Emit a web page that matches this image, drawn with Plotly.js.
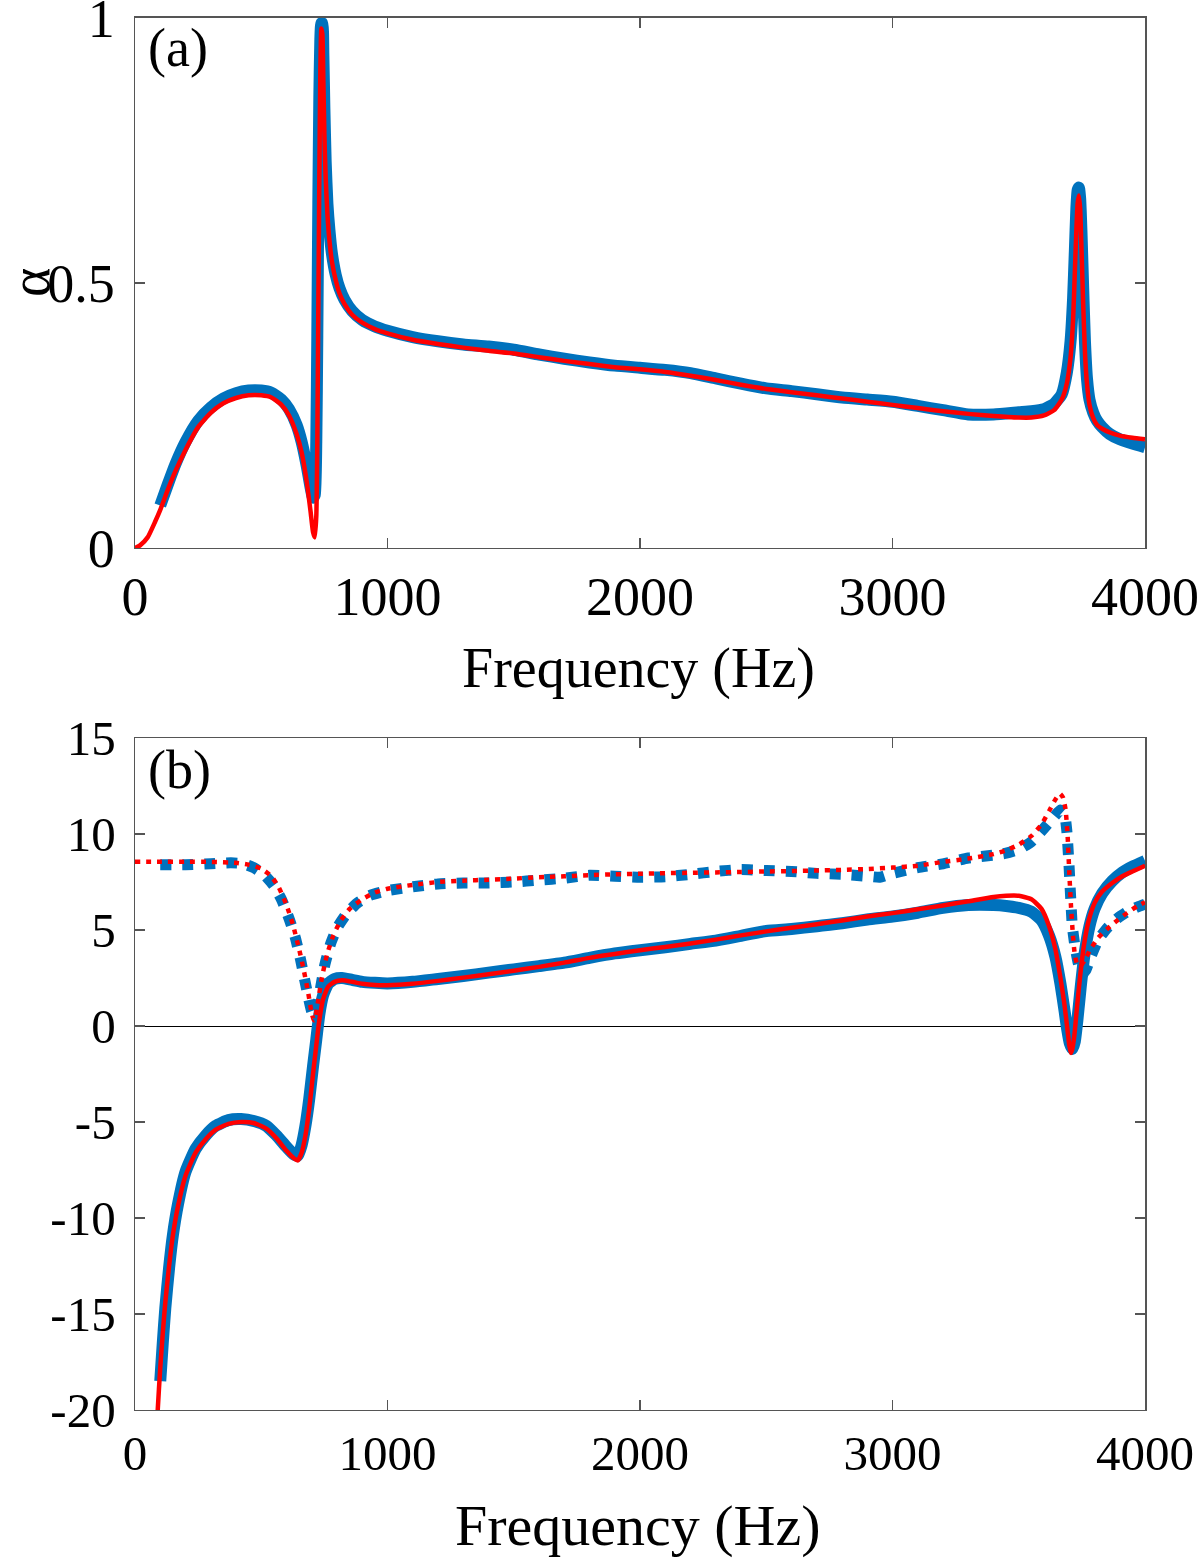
<!DOCTYPE html>
<html>
<head>
<meta charset="utf-8">
<script src="https://cdn.plot.ly/plotly-3.0.1.min.js"></script>
<style>
html,body{margin:0;padding:0;background:#fff;}
#plot{width:1200px;height:1559px;}
</style>
</head>
<body>
<div id="plot"></div>
<script>
// ---------- Panel (a): absorption coefficient ----------
var fAred = [0,20,50,80,100,130,160,200,250,300,350,400,450,500,540,580,610,640,660,680,695,705,712,718,722,726,730,734,738,742,746,750,755,762,770,780,795,810,830,860,900,950,1000,1100,1200,1300,1400,1500,1600,1700,1800,1900,2000,2100,2200,2300,2400,2500,2600,2700,2800,2900,3000,3100,3200,3300,3400,3500,3550,3600,3640,3670,3690,3705,3715,3722,3728,3733,3738,3743,3748,3755,3762,3770,3780,3795,3810,3830,3860,3900,3950,4000];
var alphaRed = [0,0.005,0.02,0.05,0.072,0.11,0.145,0.185,0.228,0.255,0.273,0.283,0.288,0.288,0.284,0.27,0.25,0.215,0.18,0.125,0.07,0.03,0.02,0.06,0.2,0.45,0.7,0.9,0.98,0.97,0.88,0.78,0.7,0.63,0.58,0.54,0.505,0.48,0.46,0.44,0.425,0.413,0.405,0.393,0.385,0.378,0.372,0.367,0.36,0.353,0.347,0.341,0.337,0.332,0.325,0.317,0.308,0.3,0.294,0.288,0.282,0.276,0.27,0.264,0.258,0.253,0.249,0.246,0.246,0.25,0.26,0.28,0.31,0.36,0.43,0.52,0.6,0.65,0.665,0.64,0.57,0.46,0.37,0.31,0.27,0.245,0.232,0.225,0.218,0.212,0.208,0.205];

var fAblue = [100,130,160,200,250,300,350,400,450,500,540,580,610,640,660,680,695,705,712,718,722,726,730,734,738,742,746,750,755,762,770,780,795,810,830,860,900,950,1000,1100,1200,1300,1400,1500,1600,1700,1800,1900,2000,2100,2200,2300,2400,2500,2600,2700,2800,2900,3000,3100,3200,3300,3400,3500,3550,3600,3640,3670,3690,3705,3715,3722,3728,3733,3738,3743,3748,3755,3762,3770,3780,3795,3810,3830,3860,3900,3950,4000];
var alphaBlue = [0.08,0.12,0.158,0.2,0.24,0.265,0.282,0.292,0.297,0.297,0.293,0.28,0.262,0.232,0.2,0.155,0.115,0.095,0.1,0.2,0.4,0.65,0.85,0.96,0.99,0.99,0.93,0.83,0.73,0.65,0.6,0.555,0.515,0.49,0.468,0.447,0.43,0.418,0.41,0.398,0.39,0.384,0.38,0.374,0.365,0.357,0.35,0.344,0.34,0.336,0.33,0.32,0.31,0.301,0.296,0.29,0.284,0.28,0.276,0.268,0.26,0.252,0.252,0.256,0.258,0.262,0.272,0.29,0.33,0.39,0.47,0.56,0.64,0.675,0.68,0.66,0.6,0.49,0.39,0.32,0.28,0.255,0.24,0.228,0.215,0.205,0.197,0.19];

// ---------- Panel (b): solid curves ----------
var fBsolidRed = [80,90,100,110,120,135,150,170,200,240,280,320,370,420,470,520,560,600,630,645,660,675,690,705,718,730,745,765,790,820,860,900,950,1000,1100,1200,1300,1400,1500,1600,1700,1800,1900,2000,2100,2200,2300,2400,2500,2600,2700,2800,2900,3000,3100,3200,3300,3400,3450,3500,3550,3590,3620,3645,3665,3680,3692,3700,3706,3712,3720,3730,3743,3758,3775,3800,3830,3870,3910,3950,4000];
var solidRed = [-23,-20,-17.8,-16,-14.4,-12.5,-10.9,-9.4,-7.8,-6.6,-5.9,-5.4,-5.1,-5.0,-5.05,-5.35,-5.85,-6.5,-6.9,-7.0,-6.6,-5.7,-4.3,-2.5,-1.0,0.3,1.4,2.05,2.3,2.38,2.3,2.2,2.13,2.12,2.2,2.35,2.52,2.7,2.88,3.08,3.3,3.55,3.75,3.95,4.12,4.3,4.5,4.72,4.93,5.12,5.3,5.5,5.7,5.88,6.08,6.28,6.5,6.72,6.78,6.78,6.6,6.1,5.2,4.0,2.5,1.2,-0.1,-1.0,-1.4,-1.2,-0.5,0.9,2.6,4.2,5.4,6.4,7.0,7.45,7.8,8.05,8.35];

var fBsolidBlue = [100,110,120,135,150,170,200,240,280,320,370,420,470,520,560,600,630,645,660,675,690,705,718,730,745,765,790,820,860,900,950,1000,1100,1200,1300,1400,1500,1600,1700,1800,1900,2000,2100,2200,2300,2400,2500,2600,2700,2800,2900,3000,3100,3200,3300,3400,3450,3500,3550,3590,3620,3645,3665,3680,3692,3702,3712,3722,3732,3745,3760,3780,3800,3830,3870,3910,3950,4000];
var solidBlue = [-18.5,-16.5,-14.7,-12.6,-10.9,-9.3,-7.6,-6.4,-5.7,-5.2,-4.9,-4.85,-4.95,-5.2,-5.7,-6.3,-6.7,-6.75,-6.2,-5.2,-3.8,-2.1,-0.7,0.6,1.6,2.2,2.45,2.5,2.4,2.3,2.25,2.22,2.3,2.45,2.6,2.78,2.95,3.12,3.3,3.55,3.78,3.95,4.1,4.28,4.45,4.7,4.95,5.05,5.2,5.35,5.55,5.7,5.9,6.15,6.3,6.3,6.25,6.15,5.95,5.5,4.7,3.6,2.2,0.9,-0.2,-0.9,-1.2,-0.8,0.3,2.0,3.7,5.2,6.1,6.9,7.55,8.0,8.3,8.6];

// ---------- Panel (b): dotted curves ----------
var fBdotRed = [0,100,200,300,400,450,500,540,570,600,625,650,670,685,698,708,715,725,740,760,785,815,850,900,950,1000,1100,1200,1300,1400,1500,1600,1700,1800,1900,2000,2100,2200,2300,2400,2500,2600,2700,2800,2900,3000,3100,3200,3300,3400,3450,3500,3550,3590,3620,3645,3663,3675,3685,3693,3700,3707,3714,3722,3732,3745,3760,3782,3815,3850,3890,3930,3970,4000];
var dotRed = [8.55,8.55,8.55,8.55,8.5,8.4,8.2,7.8,7.2,6.3,5.3,4.0,2.8,1.8,0.8,0.3,0.5,1.3,2.5,3.7,4.7,5.5,6.1,6.6,6.95,7.15,7.35,7.5,7.57,7.62,7.68,7.75,7.8,7.86,7.9,7.93,7.96,7.98,8.0,8.02,8.05,8.07,8.1,8.13,8.18,8.25,8.35,8.55,8.72,8.95,9.15,9.45,9.9,10.5,11.2,11.8,12.1,11.9,11.3,10.0,8.0,6.2,4.8,3.7,3.2,3.15,3.4,3.96,4.6,5.05,5.5,5.9,6.25,6.45];

var fBdotBlue = [100,200,300,380,430,470,510,550,580,610,635,655,672,688,700,712,722,735,752,775,800,835,880,930,1000,1100,1200,1300,1400,1500,1600,1700,1800,1900,2000,2100,2200,2300,2400,2500,2600,2700,2800,2900,2950,3000,3100,3200,3300,3400,3450,3500,3550,3600,3640,3665,3680,3690,3698,3705,3712,3722,3735,3750,3765,3785,3815,3850,3890,3930,3970,4000];
var dotBlue = [8.4,8.4,8.45,8.5,8.45,8.25,7.9,7.3,6.6,5.6,4.6,3.5,2.4,1.4,0.75,0.55,1.0,2.0,3.2,4.3,5.1,5.8,6.4,6.8,7.05,7.25,7.4,7.45,7.45,7.5,7.6,7.7,7.85,7.8,7.75,7.78,7.9,8.05,8.15,8.1,8.05,7.95,7.9,7.8,7.75,7.95,8.25,8.45,8.75,8.9,9.0,9.2,9.6,10.3,10.9,11.25,11.1,10.2,8.6,6.8,5.2,4.2,3.3,2.7,2.9,3.6,4.5,5.1,5.6,5.95,6.2,6.35];

// ---------- Ticks & labels ----------
var xTickVals = [0,1000,2000,3000,4000];
var xTickText = ['0','1000','2000','3000','4000'];
var yaTickVals = [0,0.5,1];
var yaTickText = ['0','0.5','1'];
var ybTickVals = [-20,-15,-10,-5,0,5,10,15];
var ybTickText = ['-20','-15','-10','-5','0','5','10','15'];
var xTitle = 'Frequency (Hz)';
var yTitleA = 'α';
var panelLabels = ['(a)','(b)'];

var BLUE = '#0072BD', RED = '#FF0000';
var FONT = 'Liberation Serif, Times New Roman, serif';
var SM = 0.5;

var traces = [
  {x:fAblue, y:alphaBlue, xaxis:'x', yaxis:'y', mode:'lines', line:{color:BLUE, width:12, shape:'spline', smoothing:SM}, name:'measured α'},
  {x:fAred, y:alphaRed, xaxis:'x', yaxis:'y', mode:'lines', line:{color:RED, width:4.5, shape:'spline', smoothing:SM}, name:'model α'},
  {x:fBsolidBlue, y:solidBlue, xaxis:'x2', yaxis:'y2', mode:'lines', line:{color:BLUE, width:12, shape:'spline', smoothing:SM}, name:'measured (solid)'},
  {x:fBdotBlue, y:dotBlue, xaxis:'x2', yaxis:'y2', mode:'lines', line:{color:BLUE, width:11, dash:'11px,11px', shape:'spline', smoothing:SM}, name:'measured (dotted)'},
  {x:fBsolidRed, y:solidRed, xaxis:'x2', yaxis:'y2', mode:'lines', line:{color:RED, width:4.5, shape:'spline', smoothing:SM}, name:'model (solid)'},
  {x:fBdotRed, y:dotRed, xaxis:'x2', yaxis:'y2', mode:'lines', line:{color:RED, width:4.5, dash:'5px,6px', shape:'spline', smoothing:SM}, name:'model (dotted)'}
];

var axCommon = {
  showline:true, linecolor:'#555', linewidth:1.5, mirror:'ticks',
  ticks:'inside', ticklen:10, tickwidth:1.5, tickcolor:'#555',
  showgrid:false, zeroline:false, tickmode:'array', automargin:false,
  ticklabeloverflow:'allow',
  tickfont:{family:FONT, size:54, color:'#000'}
};
function ax(extra){ var o = JSON.parse(JSON.stringify(axCommon)); for (var k in extra) o[k]=extra[k]; return o; }

var layout = {
  width:1200, height:1559,
  margin:{l:0, r:0, t:0, b:0},
  paper_bgcolor:'#fff', plot_bgcolor:'#fff',
  showlegend:false,
  font:{family:FONT, color:'#000'},
  xaxis: ax({domain:[0.1125,0.9542], anchor:'y', range:[0,4000], tickvals:xTickVals, ticktext:xTickText,
    ticklabelstandoff:1}),
  yaxis: ax({domain:[0.6485,0.9885], anchor:'x', range:[0,1], tickvals:yaTickVals, ticktext:yaTickText,
    ticklabelstandoff:8}),
  xaxis2: ax({domain:[0.1125,0.9542], anchor:'y2', range:[0,4000], tickvals:xTickVals, ticktext:xTickText,
    ticklabelstandoff:0, tickfont:{family:FONT, size:49, color:'#000'}}),
  yaxis2: ax({domain:[0.0956,0.5266], anchor:'x2', range:[-20,15], tickvals:ybTickVals, ticktext:ybTickText,
    ticklabelstandoff:8, tickfont:{family:FONT, size:49, color:'#000'},
    zeroline:true, zerolinecolor:'#000', zerolinewidth:1}),
  annotations:[
    {text:panelLabels[0], xref:'paper', yref:'paper', x:146/1200, y:1-48/1559, xanchor:'left', yanchor:'middle', showarrow:false, font:{family:FONT, size:54, color:'#000'}},
    {text:panelLabels[1], xref:'paper', yref:'paper', x:146/1200, y:1-770/1559, xanchor:'left', yanchor:'middle', showarrow:false, font:{family:FONT, size:54, color:'#000'}},
    {text:xTitle, xref:'paper', yref:'paper', x:638/1200, y:1-669/1559, xanchor:'center', yanchor:'middle', showarrow:false, font:{family:FONT, size:56, color:'#000'}},
    {text:xTitle, xref:'paper', yref:'paper', x:638/1200, y:1-1525/1559, xanchor:'center', yanchor:'middle', showarrow:false, font:{family:FONT, size:58, color:'#000'}},
    {text:yTitleA, xref:'paper', yref:'paper', x:30/1200, y:1-283/1559, xanchor:'center', yanchor:'middle', textangle:-90, height:40, showarrow:false, font:{family:FONT, size:56, color:'#000'}}
  ]
};

Plotly.newPlot('plot', traces, layout, {staticPlot:true, displayModeBar:false});
</script>
</body>
</html>
